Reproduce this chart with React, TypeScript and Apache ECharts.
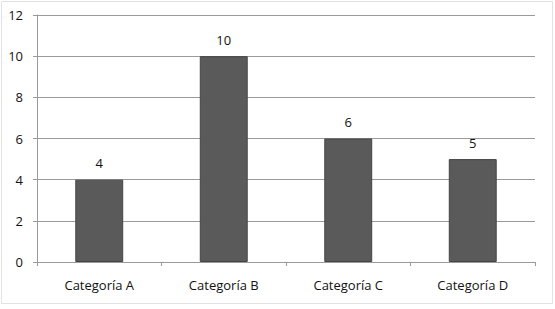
import React, { useEffect, useRef } from "react";
import * as echarts from "echarts";

const categories = ["Categoría A", "Categoría B", "Categoría C", "Categoría D"];
const values = [4, 10, 6, 5];

export default function App() {
  const ref = useRef<HTMLDivElement>(null);
  useEffect(() => {
    if (!ref.current) return;
    const chart = echarts.init(ref.current, null, { renderer: "svg" });
    const font = "'Open Sans', sans-serif";
    chart.setOption({
      animation: false,
      backgroundColor: "#ffffff",
      graphic: [
        {
          type: "rect",
          shape: { x: 1.5, y: 1.5, width: 551, height: 302 },
          style: { fill: "none", stroke: "#e2e2e2", lineWidth: 1 },
          silent: true,
        },
      ],
      grid: { left: 37, right: 20, top: 15, bottom: 47, containLabel: false },
      xAxis: {
        type: "category",
        data: categories,
        axisLine: { lineStyle: { color: "#9a9a9a", width: 1 } },
        axisTick: { show: true, length: 4, lineStyle: { color: "#9a9a9a" } },
        axisLabel: { color: "#111", fontFamily: font, fontSize: 13, margin: 16 },
        splitLine: { show: false },
      },
      yAxis: {
        type: "value",
        min: 0,
        max: 12,
        interval: 2,
        axisLine: { show: true, lineStyle: { color: "#9a9a9a", width: 1 } },
        axisTick: { show: true, length: 4, lineStyle: { color: "#9a9a9a" } },
        axisLabel: { color: "#111", fontFamily: font, fontSize: 13, margin: 14 },
        splitLine: { show: true, lineStyle: { color: "#9a9a9a", width: 1 } },
      },
      series: [
        {
          type: "bar",
          data: values,
          barWidth: "38.5%",
          itemStyle: { color: "#5a5a5a", borderColor: "#444444", borderWidth: 1 },
          label: {
            show: true,
            position: "top",
            distance: 10,
            color: "#111",
            fontFamily: font,
            fontSize: 13,
          },
        },
      ],
    });
    return () => chart.dispose();
  }, []);
  return <div ref={ref} style={{ width: 555, height: 309, position: "absolute", left: 0, top: 0 }} />;
}
